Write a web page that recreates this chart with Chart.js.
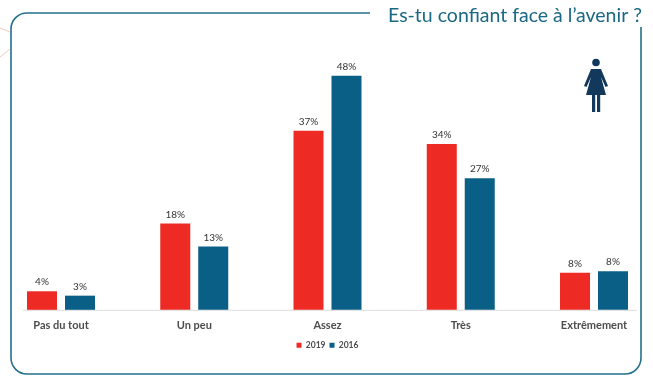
<!DOCTYPE html>
<html>
<head>
<meta charset="utf-8">
<style>
  html, body { margin: 0; padding: 0; background: #fff; }
  #wrap { position: relative; width: 653px; height: 379px; }
</style>
<script src="https://cdn.jsdelivr.net/npm/chart.js@4"></script>
</head>
<body>
<div id="wrap"><canvas id="chart"></canvas></div>
<script>
const categories = ['Pas du tout', 'Un peu', 'Assez', 'Très', 'Extrêmement'];
const values2019 = [3.8, 17.7, 36.7, 34, 7.6];
const values2016 = [2.9, 13, 48, 27, 7.9];
const titleText = 'Es-tu confiant face à l’avenir ?';

// card outline, title, pictogram, baseline
const decorPlugin = {
  id: 'decor',
  beforeDatasetsDraw(chart) {
    const ctx = chart.ctx;
    const base = chart.scales.y.getPixelForValue(0);
    ctx.save();

    // faint orange lines behind the card, top left
    ctx.strokeStyle = '#f3c9bd';
    ctx.lineWidth = 1;
    ctx.beginPath();
    ctx.moveTo(0, 28); ctx.lineTo(10, 32);
    ctx.moveTo(0, 57); ctx.lineTo(10, 49);
    ctx.stroke();

    // card with a gap where the title sits
    ctx.strokeStyle = '#24708c';
    ctx.lineWidth = 1.6;
    ctx.beginPath();
    ctx.moveTo(370, 13);
    ctx.lineTo(27, 13);
    ctx.arcTo(11, 13, 11, 29, 16);
    ctx.lineTo(11, 358);
    ctx.arcTo(11, 374, 27, 374, 16);
    ctx.lineTo(625, 374);
    ctx.arcTo(641, 374, 641, 358, 16);
    ctx.lineTo(641, 27);
    ctx.stroke();

    ctx.fillStyle = '#1b6884';
    ctx.font = '19.5px Lato';
    ctx.textAlign = 'right';
    ctx.textBaseline = 'alphabetic';
    ctx.fillText(titleText, 642, 21.5);

    // baseline runs past the first and last category
    ctx.strokeStyle = '#dcdcdc';
    ctx.lineWidth = 1;
    ctx.beginPath();
    ctx.moveTo(23, base + 0.5);
    ctx.lineTo(637, base + 0.5);
    ctx.stroke();

    // woman pictogram
    ctx.fillStyle = '#12395c';
    ctx.beginPath();
    ctx.arc(596, 62.5, 3.8, 0, Math.PI * 2);
    ctx.fill();
    ctx.beginPath();
    ctx.moveTo(591, 69);
    ctx.lineTo(601, 69);
    ctx.lineTo(608, 86);
    ctx.lineTo(605.5, 87);
    ctx.lineTo(601, 77);
    ctx.lineTo(606, 95);
    ctx.lineTo(586, 95);
    ctx.lineTo(591, 77);
    ctx.lineTo(586.5, 87);
    ctx.lineTo(584, 86);
    ctx.closePath();
    ctx.fill();
    ctx.fillRect(592, 95, 3.2, 17);
    ctx.fillRect(597, 95, 3.2, 17);
    ctx.restore();
  }
};

const valueLabelPlugin = {
  id: 'valueLabels',
  afterDatasetsDraw(chart) {
    const ctx = chart.ctx;
    ctx.save();
    ctx.fillStyle = '#333';
    ctx.font = '10px Lato';
    ctx.textAlign = 'center';
    ctx.textBaseline = 'bottom';
    chart.data.datasets.forEach((ds, i) => {
      chart.getDatasetMeta(i).data.forEach((bar, j) => {
        ctx.fillText(Math.round(ds.data[j]) + '%', bar.x, bar.y - 4);
      });
    });
    ctx.restore();
  }
};

new Chart(document.getElementById('chart'), {
  type: 'bar',
  data: {
    labels: categories,
    datasets: [
      { label: '2019', data: values2019, backgroundColor: '#ee2a24', clip: false },
      { label: '2016', data: values2016, backgroundColor: '#0a5f86', clip: false }
    ]
  },
  plugins: [decorPlugin, valueLabelPlugin],
  options: {
    responsive: true,
    maintainAspectRatio: false,
    animation: false,
    categoryPercentage: 0.57,
    barPercentage: 0.79,
    layout: { padding: { left: 61, right: 59, top: 66, bottom: 19.5 } },
    scales: {
      x: {
        offset: false,
        grid: { display: false, drawTicks: false },
        border: { display: false },
        afterFit(scale) { scale.height -= 4; },
        ticks: {
          color: '#4d4d4d',
          font: { family: 'Lato', size: 11, weight: 'bold' },
          padding: 9,
          maxRotation: 0,
          autoSkip: false
        }
      },
      y: { display: false, min: 0, max: 50 }
    },
    plugins: {
      tooltip: { enabled: false },
      legend: {
        position: 'bottom',
        labels: {
          boxWidth: 5,
          boxHeight: 5,
          padding: 4,
          color: '#4d4d4d',
          font: { family: 'Lato', size: 8.5, weight: 'bold' }
        }
      }
    }
  }
});
</script>
</body>
</html>
